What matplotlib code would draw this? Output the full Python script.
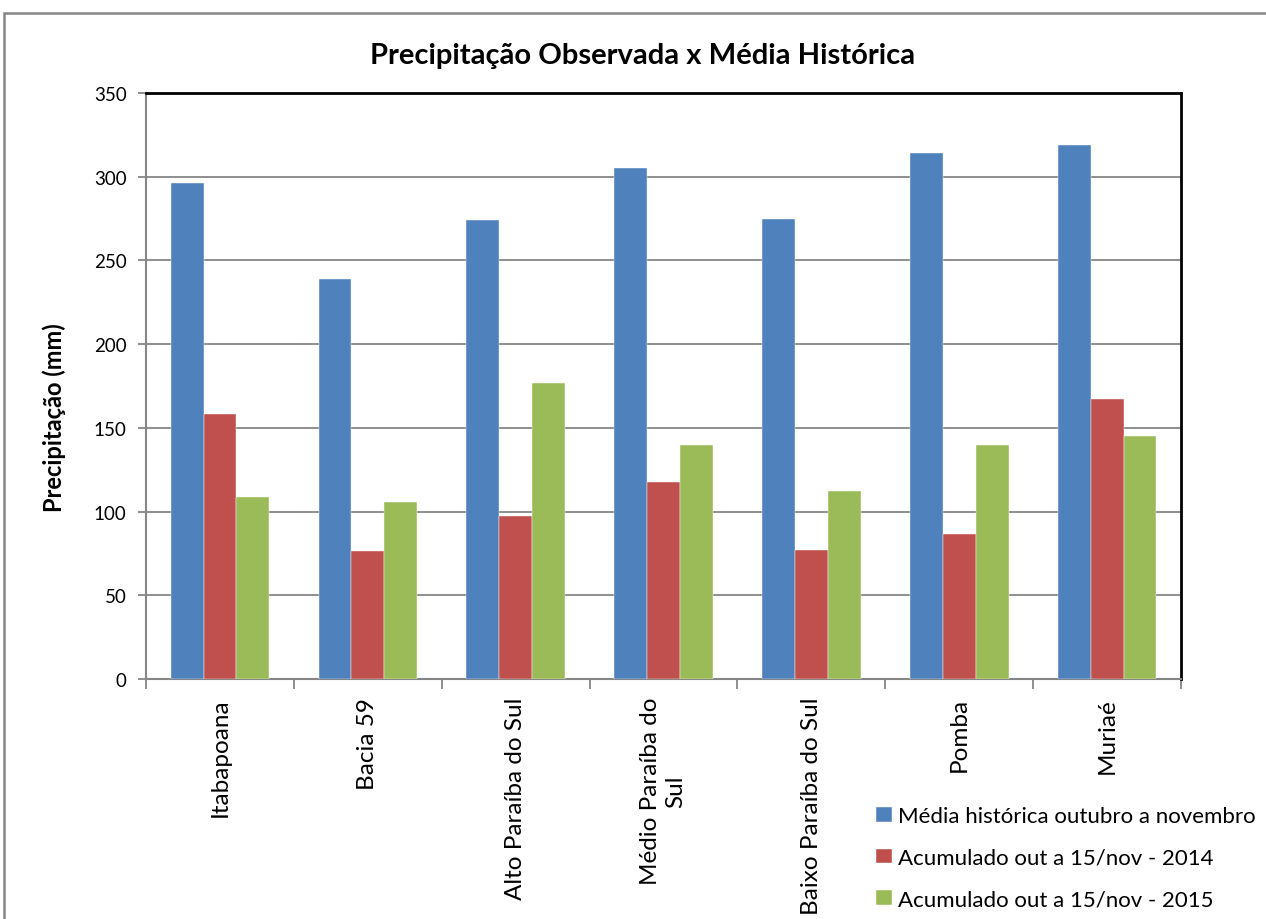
import matplotlib
matplotlib.use("Agg")
import matplotlib.pyplot as plt
import numpy as np
from matplotlib.patches import Rectangle

categories = ["Itabapoana", "Bacia 59", "Alto Paraíba do Sul", "Médio Paraíba do\nSul",
              "Baixo Paraíba do Sul", "Pomba", "Muriaé"]
media_historica = [296, 239, 274, 305, 275, 314, 319]
acum_2014 = [158, 76.5, 97.5, 117.5, 77, 86.5, 167]
acum_2015 = [108.5, 106, 176.5, 140, 112, 140, 145]
series_names = ["Média histórica outubro a novembro",
                "Acumulado out a 15/nov - 2014",
                "Acumulado out a 15/nov - 2015"]
colors = ["#4F81BD", "#C0504D", "#9BBB59"]
yticks = [0, 50, 100, 150, 200, 250, 300, 350]

plt.rcParams['font.family'] = ['Lato', 'DejaVu Sans']

W, H = 1266, 920
fig = plt.figure(figsize=(W / 100, H / 100), dpi=100)
fig.patches.append(Rectangle((4 / W, -0.2), 1.2, 1.2 - 13.5 / H, transform=fig.transFigure,
                             fill=False, edgecolor="#868686", linewidth=1.8))

ax = fig.add_axes([146 / W, 1 - 680 / H, (1181 - 146) / W, (680 - 94) / H])
x = np.arange(len(categories))
bw = 1 / 4.5
for i, (vals, c, name) in enumerate(zip([media_historica, acum_2014, acum_2015], colors, series_names)):
    ax.bar(x + (i - 1) * bw, vals, width=bw, color=c, label=name, zorder=3,
           edgecolor="white", linewidth=0.3)

ax.set_xlim(-0.5, len(categories) - 0.5)
ax.set_ylim(0, 350)
ax.set_yticks(yticks)
ax.set_yticklabels([str(v) for v in yticks], fontsize=13.5)
ax.yaxis.grid(True, color="#868686", linewidth=1.3, zorder=0)
ax.set_axisbelow(True)

ax.set_xticks(np.arange(len(categories) + 1) - 0.5, minor=False)
ax.set_xticklabels([])
ax.tick_params(axis='x', direction='out', length=7, color="#868686", width=1.3)
ax.tick_params(axis='y', direction='out', length=6, color="#868686", width=1.3, pad=8)
for xi, cat in zip(x, categories):
    ax.annotate(cat, xy=(xi, 0), xycoords='data', xytext=(0, -18), textcoords='offset pixels',
                rotation=90, ha='center', va='top', fontsize=17.5, multialignment='center',
                linespacing=1.25)

ax.spines['left'].set_color("#868686")
ax.spines['left'].set_linewidth(1.5)
ax.spines['bottom'].set_color("#868686")
ax.spines['bottom'].set_linewidth(1.5)
ax.spines['top'].set_color("black")
ax.spines['top'].set_linewidth(2)
ax.spines['right'].set_color("black")
ax.spines['right'].set_linewidth(2)

fig.text(54 / W, 1 - 418 / H, "Precipitação (mm)", rotation=90, ha='center', va='center',
         fontsize=17, fontweight='bold')
fig.text(643 / W, 1 - 56 / H, "Precipitação Observada x Média Histórica",
         ha='center', va='center', fontsize=21, fontweight='bold')

leg = fig.legend(loc='upper left', bbox_to_anchor=(876 / W, 1 - 807 / H), frameon=False,
                 fontsize=16, handlelength=0.72, handleheight=0.65, handletextpad=0.25,
                 labelspacing=0.98, borderaxespad=0, borderpad=0)

fig.savefig("out.png", dpi=100)
